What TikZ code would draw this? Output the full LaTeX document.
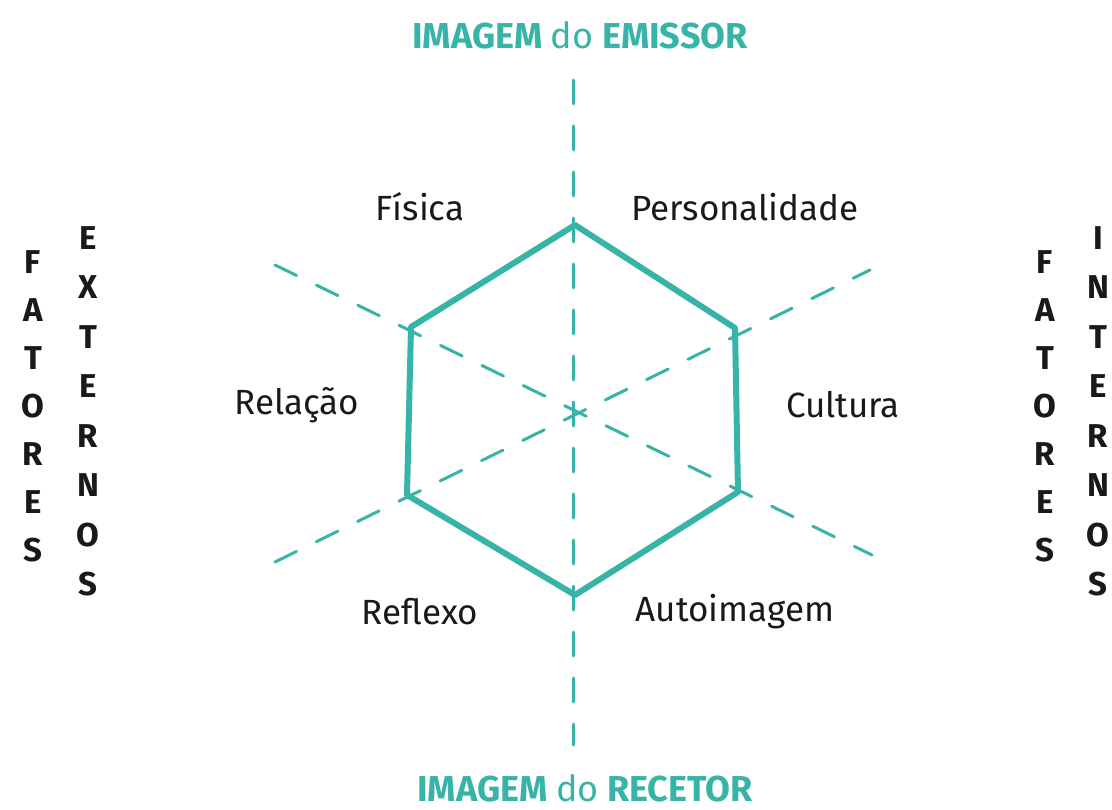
\documentclass[tikz,border=0pt]{standalone}
\usepackage{fontspec}
\setmainfont{Fira Sans}
\usetikzlibrary{calc}
\definecolor{teal1}{RGB}{56,179,168}
\tikzset{
  axis/.style={teal1, line width=3pt, dash pattern=on 24pt off 22pt, line cap=round},
  hexa/.style={teal1, line width=6pt, line join=round, line cap=round},
  facet/.style={font=\fontsize{35}{40}\selectfont, text=black!90},
  title/.style={font=\fontsize{36}{40}\selectfont\bfseries, text=teal1, anchor=base, inner sep=0pt},
  letter/.style={font=\fontsize{33}{36}\selectfont\bfseries, text=black!90}
}
\begin{document}
\begin{tikzpicture}[x=1pt, y=-1pt]
        \useasboundingbox (0,0) rectangle (1112,810);
        \coordinate(C)at(574,411);
        \coordinate(H1)at(575,225);
        \coordinate(H2)at(735,328);
        \coordinate(H3)at(738,492);
        \coordinate(H4)at(575,595);
        \coordinate(H5)at(407,495);
        \coordinate(H6)at(411,327);
        \coordinate(A1)at(573,80);
        \coordinate(A2)at(573,745);
        \coordinate(B1)at(275,265);
        \coordinate(B2)at(872,555);
        \coordinate(D1)at(275,562);
        \coordinate(D2)at(870,270);
        % eixos
        \path[draw, axis](A1)to(A2);
        \path[draw, axis](B1)to(B2);
        \path[draw, axis](D1)to(D2);
        % hexagono
        \path[draw, hexa](H1)--(H2)--(H3)--(H4)--(H5)--(H6)--cycle;
        % titulos
        \node[title](emissor)at(580,49){IMAGEM {\mdseries do} EMISSOR};
        \node[title](recetor)at(585,801){IMAGEM {\mdseries do} RECETOR};
        % facetas
        \node[facet](fisica)at(420,207){Física};
        \node[facet](personalidade)at(745,207){Personalidade};
        \node[facet](relacao)at(297,405){Relação};
        \node[facet](cultura)at(843,405){Cultura};
        \node[facet](reflexo)at(420,612){Reflexo};
        \node[facet](autoimagem)at(735,612){Autoimagem};
        % fatores
        \foreach \l [count=\i] in {F,A,T,O,R,E,S}{
            \node[letter](fe\i)at(33,{262+48*(\i-1)}){\l};
            \node[letter](fi\i)at(1045,{262+48*(\i-1)}){\l};
        }
        \foreach \l [count=\i] in {E,X,T,E,R,N,O,S}
            \node[letter](ex\i)at(88,{238+49.5*(\i-1)}){\l};
        \foreach \l [count=\i] in {I,N,T,E,R,N,O,S}
            \node[letter](in\i)at(1098,{238+49.5*(\i-1)}){\l};
    \end{tikzpicture}
\end{document}
